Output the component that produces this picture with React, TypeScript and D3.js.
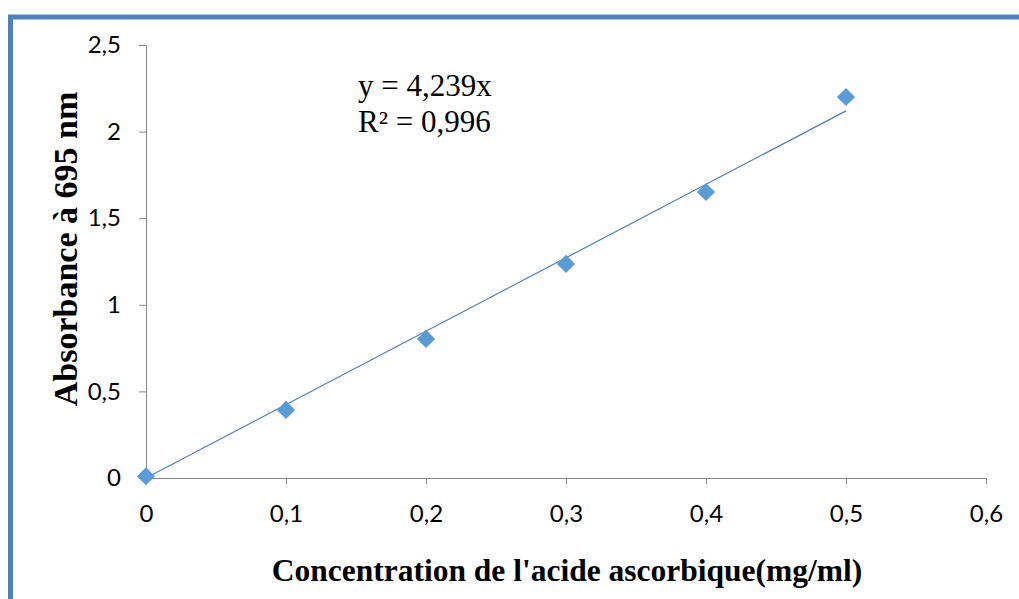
import React, { useEffect, useRef } from "react";
import * as d3 from "d3";

const concentrations = [0, 0.1, 0.2, 0.3, 0.4, 0.5];
const absorbances = [0.01, 0.393, 0.803, 1.236, 1.651, 2.2];
const xTicks = [0, 0.1, 0.2, 0.3, 0.4, 0.5, 0.6];
const yTicks = [0, 0.5, 1, 1.5, 2, 2.5];
const slope = 4.239;
const equationLines = ["y = 4,239x", "R² = 0,996"];

const fmt = (v: number) => String(v).replace(".", ",");

const App = () => {
  const ref = useRef<SVGSVGElement | null>(null);

  useEffect(() => {
    const svg = d3.select(ref.current);
    svg.selectAll("*").remove();

    const width = 1019;
    const height = 599;
    const margin = { top: 45, right: 33, bottom: 121, left: 146 };
    const serif = "'Liberation Serif', 'Times New Roman', serif";

    const x = d3
      .scaleLinear()
      .domain([0, 0.6])
      .range([margin.left, width - margin.right]);
    const y = d3
      .scaleLinear()
      .domain([0, 2.5])
      .range([height - margin.bottom, margin.top]);

    // frame
    svg
      .append("rect")
      .attr("width", width)
      .attr("height", height)
      .attr("fill", "#fff");
    svg
      .append("path")
      .attr("d", `M10.5,${height} V17 H${width}`)
      .attr("fill", "none")
      .attr("stroke", "#4f81bd")
      .attr("stroke-width", 5);

    const axisColor = "#868686";
    const tickFont = "Lato, 'Open Sans', sans-serif";

    const xAxis = svg
      .append("g")
      .attr("transform", `translate(0, ${y(0)})`)
      .call(
        d3
          .axisBottom(x)
          .tickValues(xTicks)
          .tickSize(6)
          .tickFormat((d) => fmt(d as number))
      );
    xAxis.select(".domain").attr("stroke", axisColor);
    xAxis.selectAll(".tick line").attr("stroke", axisColor);
    xAxis
      .selectAll(".tick text")
      .attr("fill", "#000")
      .attr("font-family", tickFont)
      .attr("font-size", 24)
      .attr("y", 27)
      .attr("dy", "0.71em");

    const yAxis = svg
      .append("g")
      .attr("transform", `translate(${x(0)}, 0)`)
      .call(
        d3
          .axisLeft(y)
          .tickValues(yTicks)
          .tickSize(7)
          .tickFormat((d) => fmt(d as number))
      );
    yAxis.select(".domain").attr("stroke", axisColor);
    yAxis.selectAll(".tick line").attr("stroke", axisColor);
    yAxis
      .selectAll(".tick text")
      .attr("fill", "#000")
      .attr("font-family", tickFont)
      .attr("font-size", 24)
      .attr("x", -25);

    // trend line
    svg
      .append("line")
      .attr("x1", x(0))
      .attr("y1", y(0))
      .attr("x2", x(0.5))
      .attr("y2", y(slope * 0.5))
      .attr("stroke", "#4a7ebb")
      .attr("stroke-width", 1.2);

    // markers
    const diamond = d3.symbol().type(d3.symbolDiamond2).size(210);
    svg
      .selectAll("path.pt")
      .data(concentrations)
      .enter()
      .append("path")
      .attr("class", "pt")
      .attr("d", diamond)
      .attr("transform", (d, i) => `translate(${x(d)}, ${y(absorbances[i])})`)
      .attr("fill", "#5b9bd5");

    // equation
    const eq = svg
      .append("text")
      .attr("font-family", serif)
      .attr("font-size", 31)
      .attr("fill", "#000");
    equationLines.forEach((line, i) => {
      eq.append("tspan")
        .attr("x", 358)
        .attr("y", 96 + i * 36)
        .text(line);
    });

    // axis titles
    svg
      .append("text")
      .attr("x", 567)
      .attr("y", 581)
      .attr("text-anchor", "middle")
      .attr("font-family", serif)
      .attr("font-weight", "bold")
      .attr("font-size", 31.5)
      .text("Concentration de l'acide ascorbique(mg/ml)");

    svg
      .append("text")
      .attr("transform", `translate(77, 249) rotate(-90)`)
      .attr("text-anchor", "middle")
      .attr("font-family", serif)
      .attr("font-weight", "bold")
      .attr("font-size", 34)
      .text("Absorbance à 695 nm");
  }, []);

  return (
    <svg
      ref={ref}
      width={1019}
      height={599}
      style={{ position: "absolute", left: 0, top: 0 }}
    />
  );
};

export default App;
